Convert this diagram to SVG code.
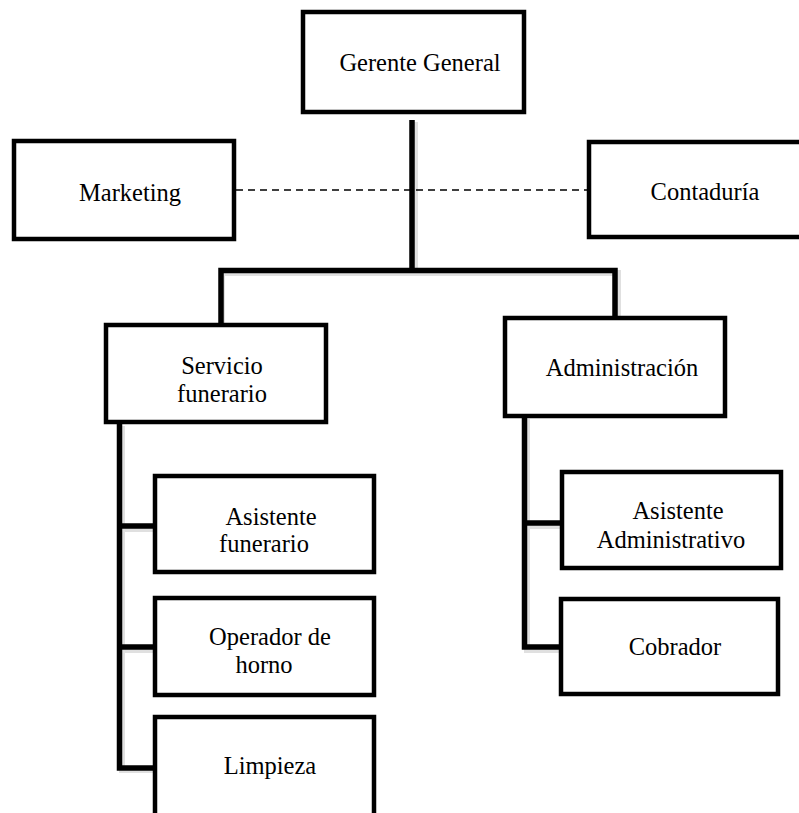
<svg xmlns="http://www.w3.org/2000/svg" width="799" height="813" viewBox="0 0 799 813">
<style>
.box{fill:#fff;stroke:#000;stroke-width:4.5;stroke-linejoin:miter}
.t{font-family:"Liberation Serif","Times New Roman",serif;font-size:24.5px;fill:#000;text-anchor:middle}
.ln{fill:none;stroke:#000;stroke-width:5.5;stroke-linejoin:miter;stroke-linecap:butt}
.sh{fill:none;stroke:#000;stroke-opacity:0.12;stroke-width:6;stroke-linejoin:miter}
.dash{fill:none;stroke:#000;stroke-width:1.5;stroke-dasharray:7 5}
</style>
<rect width="799" height="813" fill="#fff"/>
<g id="connectors">
<path class="sh" d="M415 122 V272 M222 324 V273 H618 V318 M122 426 V770 H155 M122 529 H155 M122 650 H155 M527 419 V650 H561 M527 526 H561"/>
<line class="dash" x1="236" y1="190" x2="587" y2="190"/>
<path class="ln" d="M412 120 V270.5 M221 323 V270.5 H615 V317"/>
<path class="ln" d="M119.5 424 V768 H154 M119.5 526 H154 M119.5 647 H154"/>
<path class="ln" d="M524.5 418 V647 H560 M524.5 523 H560"/>
</g>
<g id="gerente">
<rect class="box" x="303" y="12" width="221" height="100"/>
<text class="t" x="420" y="71">Gerente General</text>
</g>
<g id="marketing">
<rect class="box" x="14" y="141" width="220" height="98"/>
<text class="t" x="130" y="201">Marketing</text>
</g>
<g id="contaduria">
<rect class="box" x="589" y="142" width="230" height="95"/>
<text class="t" x="705" y="200">Contaduría</text>
</g>
<g id="servicio">
<rect class="box" x="106" y="325" width="220" height="97"/>
<text class="t" x="222" y="374">Servicio</text>
<text class="t" x="222" y="402">funerario</text>
</g>
<g id="administracion">
<rect class="box" x="505" y="318" width="220" height="98"/>
<text class="t" x="622" y="376">Administración</text>
</g>
<g id="asistente-funerario">
<rect class="box" x="155" y="476" width="219" height="96"/>
<text class="t" x="271" y="525">Asistente</text>
<text class="t" x="264" y="552">funerario</text>
</g>
<g id="operador">
<rect class="box" x="155" y="598" width="219" height="97"/>
<text class="t" x="270" y="645">Operador de</text>
<text class="t" x="264" y="673">horno</text>
</g>
<g id="limpieza">
<rect class="box" x="155" y="717" width="219" height="110"/>
<text class="t" x="270" y="774">Limpieza</text>
</g>
<g id="asistente-administrativo">
<rect class="box" x="562" y="472" width="219" height="96"/>
<text class="t" x="678" y="519">Asistente</text>
<text class="t" x="671" y="548">Administrativo</text>
</g>
<g id="cobrador">
<rect class="box" x="561" y="599" width="217" height="95"/>
<text class="t" x="675" y="655">Cobrador</text>
</g>
</svg>
